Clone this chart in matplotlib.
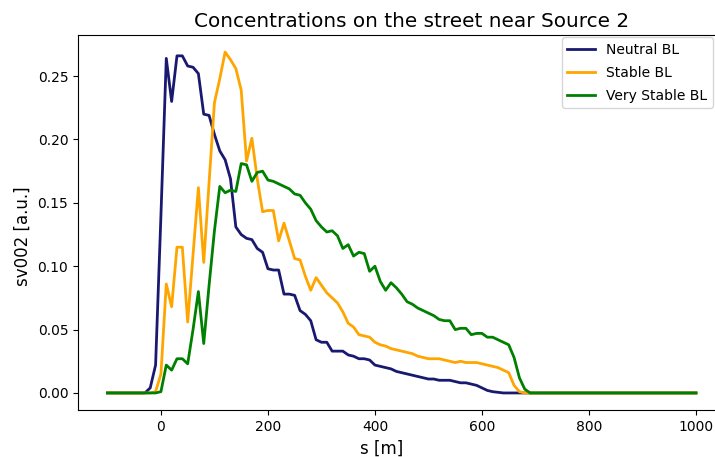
import numpy as np
import matplotlib
matplotlib.use("Agg")
import matplotlib.pyplot as plt

# Distance along the street [m], 10 m steps
s = np.arange(-100, 1001, 10)

# Neutral BL, from s = -100 up to 660 m (zero afterwards)
neutral_head = [
    0, 0, 0, 0, 0, 0, 0, 0, 0.004, 0.022,            # -100 .. -10
    0.140, 0.264, 0.230, 0.266, 0.266, 0.258, 0.257, 0.252, 0.220, 0.219,  # 0 .. 90
    0.204, 0.191, 0.184, 0.169, 0.131, 0.125, 0.122, 0.121, 0.114, 0.111,  # 100 .. 190
    0.098, 0.097, 0.097, 0.078, 0.078, 0.077, 0.065, 0.062, 0.057, 0.042,  # 200 .. 290
    0.040, 0.040, 0.033, 0.033, 0.033, 0.030, 0.029, 0.027, 0.027, 0.026,  # 300 .. 390
    0.022, 0.021, 0.020, 0.019, 0.017, 0.016, 0.015, 0.014, 0.013, 0.012,  # 400 .. 490
    0.011, 0.011, 0.010, 0.010, 0.010, 0.009, 0.008, 0.008, 0.007, 0.006,  # 500 .. 590
    0.004, 0.002, 0.001, 0.0005, 0, 0, 0,                                   # 600 .. 660
]

# Stable BL
stable_head = [
    0, 0, 0, 0, 0, 0, 0, 0, 0, 0.001,                # -100 .. -10
    0.015, 0.086, 0.068, 0.115, 0.115, 0.056, 0.109, 0.162, 0.103, 0.166,  # 0 .. 90
    0.229, 0.248, 0.269, 0.263, 0.256, 0.239, 0.183, 0.201, 0.169, 0.143,  # 100 .. 190
    0.144, 0.144, 0.120, 0.134, 0.120, 0.106, 0.105, 0.092, 0.081, 0.091,  # 200 .. 290
    0.085, 0.079, 0.075, 0.071, 0.064, 0.055, 0.052, 0.046, 0.045, 0.044,  # 300 .. 390
    0.040, 0.038, 0.037, 0.035, 0.034, 0.033, 0.032, 0.031, 0.029, 0.028,  # 400 .. 490
    0.027, 0.027, 0.027, 0.026, 0.025, 0.024, 0.025, 0.024, 0.024, 0.024,  # 500 .. 590
    0.023, 0.022, 0.021, 0.020, 0.018, 0.016, 0.006, 0.001, 0,             # 600 .. 680
]

# Very Stable BL
very_stable_head = [
    0, 0, 0, 0, 0, 0, 0, 0, 0, 0,                    # -100 .. -10
    0.001, 0.022, 0.018, 0.027, 0.027, 0.023, 0.050, 0.080, 0.039, 0.085,  # 0 .. 90
    0.128, 0.163, 0.158, 0.160, 0.159, 0.181, 0.180, 0.167, 0.174, 0.175,  # 100 .. 190
    0.168, 0.167, 0.165, 0.163, 0.161, 0.157, 0.156, 0.150, 0.145, 0.136,  # 200 .. 290
    0.131, 0.127, 0.128, 0.124, 0.114, 0.117, 0.108, 0.111, 0.110, 0.096,  # 300 .. 390
    0.100, 0.088, 0.081, 0.087, 0.083, 0.078, 0.072, 0.070, 0.067, 0.065,  # 400 .. 490
    0.063, 0.061, 0.058, 0.057, 0.057, 0.050, 0.051, 0.051, 0.046, 0.047,  # 500 .. 590
    0.047, 0.044, 0.044, 0.042, 0.040, 0.038, 0.028, 0.012, 0.003, 0,      # 600 .. 690
]


def pad(values):
    out = np.zeros(len(s))
    out[:len(values)] = values
    return out


series = [
    ("Neutral BL", pad(neutral_head), "midnightblue"),
    ("Stable BL", pad(stable_head), "orange"),
    ("Very Stable BL", pad(very_stable_head), "green"),
]

W, H = 715, 457
fig = plt.figure(figsize=(W / 100, H / 100), dpi=100)
# the plot area runs slightly past the right edge of the canvas
ax_left, ax_right, ax_top, ax_bottom = 78, 725.4, 35, 410
ax = fig.add_axes([ax_left / W, 1 - ax_bottom / H,
                   (ax_right - ax_left) / W, (ax_bottom - ax_top) / H])

for label, values, color in series:
    ax.plot(s, values, color=color, linewidth=2, label=label)


def ax_x(px):
    return (px - ax_left) / (ax_right - ax_left)


def ax_y(py):
    return (ax_bottom - py) / (ax_bottom - ax_top)


ax.set_title("Concentrations on the street near Source 2", fontsize="x-large",
             x=ax_x(412))
ax.set_xlabel("s [m]", fontsize="large", x=ax_x(382))
ax.set_ylabel("sv002 [a.u.]", fontsize="large", y=ax_y(236))
ax.legend(loc="upper right", bbox_to_anchor=(713 / W, 1 - 37 / H),
          bbox_transform=fig.transFigure, borderaxespad=0, labelspacing=0.65)

fig.savefig("out.png", dpi=100)
